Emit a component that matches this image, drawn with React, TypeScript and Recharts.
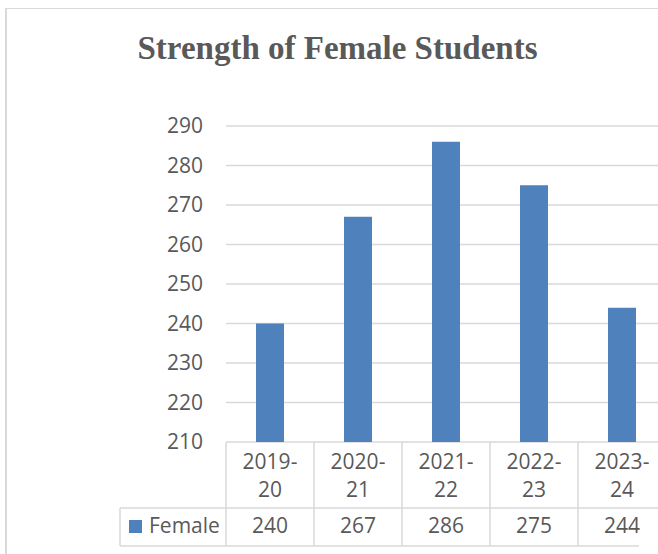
import React from 'react';
import { BarChart, Bar, XAxis, YAxis, CartesianGrid } from 'recharts';

// chart values
const years = ['2019-20', '2020-21', '2021-22', '2022-23', '2023-24'];
const female = [240, 267, 286, 275, 244];
const yTicks = [210, 220, 230, 240, 250, 260, 270, 280, 290];
const seriesName = 'Female';
const title = 'Strength of Female Students';

const data = years.map((year, i) => ({ year, female: female[i] }));

const TEXT = '#595959';
const LINE = '#d9d9d9';
const BLUE = '#4F81BD';
const FONT = '"Open Sans", sans-serif';

// data table drawn under the plot, one column per category tick
const TableTick = (props: any) => {
  const { x, y, payload, index } = props;
  const half = payload?.offset || 44;
  const left = x - half;
  const right = x + half;
  const row1 = 66;
  const row2 = 38;
  const [top, bottom] = String(payload.value).split('-');
  const value = female[index];
  const last = index === years.length - 1;
  return (
    <g>
      <line x1={left} y1={y} x2={left} y2={y + row1 + row2} stroke={LINE} strokeWidth={1.5} />
      <line x1={left} y1={y + row1} x2={right} y2={y + row1} stroke={LINE} strokeWidth={1.5} />
      <line x1={left} y1={y + row1 + row2} x2={last ? left + 61 : right} y2={y + row1 + row2} stroke={LINE} strokeWidth={1.5} />
      <text x={x} y={y + 27} textAnchor="middle" fill={TEXT} fontSize={21} fontFamily={FONT}>{top}-</text>
      <text x={x} y={y + 54.5} textAnchor="middle" fill={TEXT} fontSize={21} fontFamily={FONT}>{bottom}</text>
      <text x={x} y={y + 91} textAnchor="middle" fill={TEXT} fontSize={21} fontFamily={FONT}>{value}</text>
      {index === 0 && (
        <g>
          <line x1={left - 106} y1={y + row1} x2={left} y2={y + row1} stroke={LINE} strokeWidth={1.5} />
          <line x1={left - 106} y1={y + row1} x2={left - 106} y2={y + row1 + row2} stroke={LINE} strokeWidth={1.5} />
          <line x1={left - 106} y1={y + row1 + row2} x2={left} y2={y + row1 + row2} stroke={LINE} strokeWidth={1.5} />
          <rect x={left - 97} y={y + 78} width={13} height={13} fill={BLUE} />
          <text x={left - 77} y={y + 91} fill={TEXT} fontSize={21} fontFamily={FONT}>{seriesName}</text>
        </g>
      )}
    </g>
  );
};

export default function App() {
  return (
    <div style={{ position: 'fixed', left: 0, top: 0, width: 658, height: 554, overflow: 'hidden', background: '#fff' }}>
      {/* outer chart frame, cropped on the right and bottom */}
      <div
        style={{
          position: 'absolute',
          left: 5,
          top: 8,
          width: 720,
          height: 600,
          borderLeft: `2px solid ${LINE}`,
          borderTop: `1px solid ${LINE}`,
        }}
      />
      <svg width={658} height={90} style={{ position: 'absolute', left: 0, top: 0 }}>
        <text
          x={337.5}
          y={58.5}
          textAnchor="middle"
          fill={TEXT}
          fontSize={33}
          fontWeight="bold"
          fontFamily='"Liberation Serif", serif'
        >
          {title}
        </text>
      </svg>
      <div style={{ position: 'absolute', left: 0, top: 0 }}>
        <BarChart width={680} height={554} data={data} margin={{ top: 126, right: 14, bottom: 8, left: 0 }}>
          <CartesianGrid vertical={false} stroke={LINE} strokeWidth={1.3} />
          <XAxis
            dataKey="year"
            axisLine={false}
            tickLine={false}
            tickSize={0}
            tickMargin={0}
            height={104}
            interval={0}
            tick={<TableTick />}
          />
          <YAxis
            domain={[210, 290]}
            ticks={yTicks}
            axisLine={false}
            tickLine={false}
            tickSize={0}
            tickMargin={23}
            width={226}
            tick={{ fill: TEXT, fontSize: 21, fontFamily: FONT }}
          />
          <Bar dataKey="female" fill={BLUE} barSize={28} isAnimationActive={false} />
        </BarChart>
      </div>
    </div>
  );
}
